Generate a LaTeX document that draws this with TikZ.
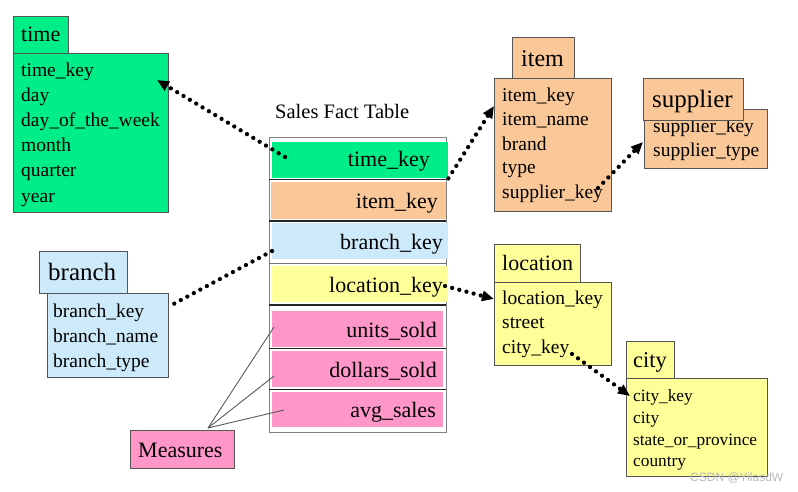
\documentclass[tikz,border=0pt]{standalone}
\usepackage{fontspec}
\setmainfont{Liberation Serif}
\newfontfamily\wmfont{Liberation Sans}
\usetikzlibrary{arrows.meta}
\definecolor{cgreen}{RGB}{0,238,136}
\definecolor{corange}{RGB}{250,200,152}
\definecolor{cblue}{RGB}{204,234,250}
\definecolor{cyellow}{RGB}{255,255,153}
\definecolor{cpink}{RGB}{255,150,200}
\definecolor{cborder}{RGB}{85,85,85}
\begin{document}
\begin{tikzpicture}[x=1pt,y=-1pt,
  box/.style={draw=cborder, line width=1.1pt, inner sep=0pt, anchor=north west},
  rowfill/.style={inner sep=0pt, anchor=north west, draw=none},
  fld/.style={anchor=base west, inner sep=0pt, font=\fontsize{19.5}{20}\selectfont},
  sfld/.style={anchor=base west, inner sep=0pt, font=\fontsize{17.3}{18}\selectfont},
  ttl/.style={anchor=base west, inner sep=0pt, font=\fontsize{#1}{#1}\selectfont},
  ffld/.style={anchor=base east, inner sep=0pt, font=\fontsize{22}{22}\selectfont},
  sepline/.style={draw=black!85, line width=1.4pt},
  dotline/.style={line width=4.3pt, line cap=round, dash pattern=on 0pt off 7.4pt},
  dotarrow/.style={dotline, -{Triangle[length=12pt,width=10pt]}},
  mline/.style={draw=black!65, line width=0.9pt}
]
\useasboundingbox (0,0) rectangle (798,492);

% ---------- time ----------
\node[box, fill=cgreen, minimum width=155pt, minimum height=159pt] (timebody) at (13,53) {};
\node[box, fill=cgreen, minimum width=55pt, minimum height=37pt] (timetab) at (13,16) {};
\node[ttl=22] (timettl) at (21,42) {time};
\node[fld] (t1) at (21,77) {time\_key};
\node[fld] (t2) at (21,102) {day};
\node[fld] (t3) at (21,127) {day\_of\_the\_week};
\node[fld] (t4) at (21,152) {month};
\node[fld] (t5) at (21,177) {quarter};
\node[fld] (t6) at (21,202) {year};

% ---------- item ----------
\node[box, fill=corange, minimum width=117pt, minimum height=133pt] (itembody) at (494,78) {};
\node[box, fill=corange, minimum width=62pt, minimum height=41pt] (itemtab) at (512,37) {};
\node[ttl=24] (itemttl) at (521,67) {item};
\node[fld] (i1) at (502,102) {item\_key};
\node[fld] (i2) at (502,126) {item\_name};
\node[fld] (i3) at (502,150) {brand};
\node[fld] (i4) at (502,174) {type};
\node[fld] (i5) at (502,198) {supplier\_key};

% ---------- supplier ----------
\node[box, fill=corange, minimum width=123pt, minimum height=59pt] (supbody) at (644,109) {};
\node[fld] (s1) at (653,133) {supplier\_key};
\node[fld] (s2) at (653,157) {supplier\_type};
\node[box, fill=corange, minimum width=100pt, minimum height=42pt] (suptab) at (643,78) {};
\node[ttl=25] (supttl) at (652,108) {supplier};

% ---------- branch ----------
\node[box, fill=cblue, minimum width=121pt, minimum height=84pt] (brbody) at (47,293) {};
\node[box, fill=cblue, minimum width=88pt, minimum height=42pt] (brtab) at (39,251) {};
\node[ttl=25] (brttl) at (48,280) {branch};
\node[fld] (b1) at (53,317) {branch\_key};
\node[fld] (b2) at (53,342) {branch\_name};
\node[fld] (b3) at (53,367) {branch\_type};

% ---------- location ----------
\node[box, fill=cyellow, minimum width=117pt, minimum height=83pt] (locbody) at (494,282) {};
\node[box, fill=cyellow, minimum width=86pt, minimum height=38pt] (loctab) at (494,244) {};
\node[ttl=22] (locttl) at (502,270) {location};
\node[fld] (l1) at (502,304) {location\_key};
\node[fld] (l2) at (502,328) {street};
\node[fld] (l3) at (502,353) {city\_key};

% ---------- city ----------
\node[box, fill=cyellow, minimum width=141pt, minimum height=98pt] (citybody) at (626,378) {};
\node[box, fill=cyellow, minimum width=48pt, minimum height=37pt] (citytab) at (626,341) {};
\node[ttl=22.5] (cityttl) at (633,367) {city};
\node[sfld] (c1) at (633,401) {city\_key};
\node[sfld] (c2) at (633,423) {city};
\node[sfld] (c3) at (633,445) {state\_or\_province};
\node[sfld] (c4) at (633,466) {country};

% ---------- fact table ----------
\node[ttl=20.5] (facttitle) at (275,119) {Sales Fact Table};
\node[draw=black!50, line width=0.9pt, inner sep=0pt, anchor=north west,
      minimum width=177pt, minimum height=295pt] (fact) at (269,137) {};
\node[rowfill, fill=cgreen, minimum width=176pt, minimum height=36pt] (rtime) at (272,142) {};
\node[rowfill, fill=corange, minimum width=175pt, minimum height=37pt] (ritem) at (271,182) {};
\node[rowfill, fill=cblue, minimum width=176pt, minimum height=36pt] (rbranch) at (272,223) {};
\node[rowfill, fill=cyellow, minimum width=176pt, minimum height=36pt] (rloc) at (272,266) {};
\node[rowfill, fill=cpink, minimum width=171pt, minimum height=36pt] (runits) at (272,311) {};
\node[rowfill, fill=cpink, minimum width=171pt, minimum height=36pt] (rdollars) at (272,351) {};
\node[rowfill, fill=cpink, minimum width=171pt, minimum height=35pt] (ravg) at (272,392) {};
\draw[sepline] (269,179.5) -- (446,179.5);
\draw[sepline] (269,221) -- (446,221);
\draw[sepline, draw=black!55] (269,263.5) -- (446,263.5);
\draw[sepline] (269,305) -- (446,305);
\draw[sepline] (269,348.5) -- (446,348.5);
\draw[sepline] (269,389.5) -- (446,389.5);
\node[ffld] (ftime) at (430,167) {time\_key};
\node[ffld] (fitem) at (438,208) {item\_key};
\node[ffld] (fbranch) at (443,249) {branch\_key};
\node[ffld] (floc) at (443,292) {location\_key};
\node[ffld] (funits) at (437,337) {units\_sold};
\node[ffld] (fdollars) at (437,377) {dollars\_sold};
\node[ffld] (favg) at (436,417) {avg\_sales};

% ---------- measures ----------
\node[box, fill=cpink, minimum width=104pt, minimum height=38pt] (measures) at (130,430) {};
\node[ttl=22] (meastxt) at (138,457) {Measures};
\coordinate (mtop) at (208,428);
\coordinate (mu) at (274,327);
\coordinate (md) at (274,376);
\coordinate (ma) at (284,410);
\draw[mline] (mtop) -- (mu);
\draw[mline] (mtop) -- (md);
\draw[mline] (mtop) -- (ma);

% ---------- connectors ----------
\coordinate (a1s) at (285,157); \coordinate (a1e) at (157,80);
\draw[dotarrow] (a1s) -- (a1e);
\coordinate (a2e) at (494,106);
\draw[dotarrow] (rtime.south east) -- (a2e);
\coordinate (a3s) at (598,188); \coordinate (a3e) at (643,142);
\draw[dotarrow] (a3s) -- (a3e);
\coordinate (a4s) at (272,251); \coordinate (a4e) at (168,307);
\draw[dotline] (a4s) -- (a4e);
\coordinate (a5s) at (445,286); \coordinate (a5e) at (494,299);
\draw[dotarrow] (a5s) -- (a5e);
\coordinate (a6s) at (572,354); \coordinate (a6e) at (630,396);
\draw[dotarrow] (a6s) -- (a6e);

% ---------- watermark ----------
\node[anchor=base west, inner sep=0pt, text=gray!55, font=\wmfont\fontsize{12}{12}\selectfont] (wm) at (690,481) {CSDN @YilasdW};
\end{tikzpicture}
\end{document}
